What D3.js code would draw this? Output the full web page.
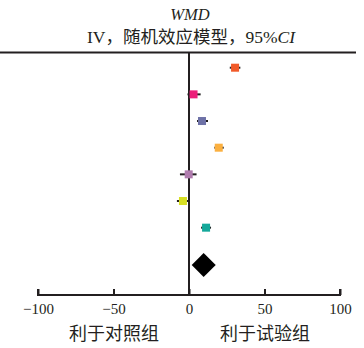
<!DOCTYPE html>
<html><head><meta charset="utf-8">
<script src="https://cdn.jsdelivr.net/npm/d3@7"></script>
<style>body{margin:0;background:#fff}svg{display:block}</style>
</head><body>
<script>
const studies = ["S1","S2","S3","S4","S5","S6","S7"];
const estimates = [30.5, 3.0, 8.6, 19.7, -0.2, -4.0, 11.3];
const ciLow = [27.0, -1.0, 5.3, 16.8, -6.0, -8.0, 8.0];
const ciHigh = [34.0, 7.7, 12.6, 23.0, 5.0, -0.5, 14.6];
const colors = ["#F15A29","#EC1E79","#6E72A7","#FBB040","#B07CAE","#D7DF23","#15A89A"];
const pooled = {est: 9.7, low: 1.8, high: 17.7};
const xTicks = [-100, -50, 0, 50, 100];
const sideLabels = ["利于对照组", "利于试验组"];
const sideAt = [-50, 50];

const W = 364, H = 348;
const svg = d3.select("body").append("svg").attr("width", W).attr("height", H);
const x = d3.scaleLinear().domain([-100, 100]).range([38, 340]);
const y = d3.scaleLinear().domain([0, 7.4]).range([67.7, 265]);
const ink = "#231F20";
const serif = "'Liberation Serif','DejaVu Serif',serif";
const cjk = "'Liberation Serif','Noto Sans CJK SC',serif";

// titles
svg.append("text").attr("x", 190).attr("y", 19.5).attr("text-anchor","middle")
  .style("font-family", serif).style("font-style","italic").style("font-size","16.5px").attr("fill", ink).text("WMD");
const t2 = svg.append("text").attr("x", 191).attr("y", 43).attr("text-anchor","middle")
  .style("font-family", cjk).style("font-size","17.5px").attr("fill", ink);
t2.append("tspan").text("IV，随机效应模型，95%");
t2.append("tspan").style("font-style","italic").text("CI");

// top line
svg.append("line").attr("x1", 0).attr("x2", 356).attr("y1", 52.5).attr("y2", 52.5)
  .attr("stroke", ink).attr("stroke-width", 2);
// zero line
svg.append("line").attr("x1", x(0)).attr("x2", x(0)).attr("y1", 52.5).attr("y2", 295)
  .attr("stroke", ink).attr("stroke-width", 2);

// axis
const axis = d3.axisBottom(x).tickValues(xTicks).tickSize(-6).tickPadding(12)
  .tickFormat(d => d < 0 ? "\u2212" + Math.abs(d) : String(d));
const g = svg.append("g").attr("transform", "translate(0,295)").call(axis);
g.select(".domain").attr("stroke", ink).attr("stroke-width", 2).attr("d", `M${x(-100)},-6V0H${x(100)}V-6`);
g.selectAll(".tick line").attr("stroke", ink).attr("stroke-width", 2);
g.selectAll(".tick text").attr("fill", ink).style("font-family", serif).style("font-size","15px").attr("dy","0.45em");

// side labels
svg.selectAll("text.side").data(sideLabels).join("text").attr("class","side")
  .attr("x", (d,i) => x(sideAt[i]) + 0.5).attr("y", 340).attr("text-anchor","middle")
  .style("font-family", cjk).style("font-size","18px").attr("fill", ink).text(d => d);

// CI whiskers
svg.selectAll("line.ci").data(studies).join("line").attr("class","ci")
  .attr("x1", (d,i) => x(ciLow[i])).attr("x2", (d,i) => x(ciHigh[i]))
  .attr("y1", (d,i) => y(i)).attr("y2", (d,i) => y(i))
  .attr("stroke", ink).attr("stroke-width", 2);
// squares
const s = 8;
svg.selectAll("rect.pt").data(studies).join("rect").attr("class","pt")
  .attr("x", (d,i) => x(estimates[i]) - s/2).attr("y", (d,i) => y(i) - s/2)
  .attr("width", s).attr("height", s).attr("fill", (d,i) => colors[i]);

// pooled diamond
const dy = y(7.4);
const hh = 12;
svg.append("path").attr("d",
  `M${x(pooled.low)},${dy}L${x(pooled.est)},${dy-hh}L${x(pooled.high)},${dy}L${x(pooled.est)},${dy+hh}Z`)
  .attr("fill", "#000");
</script>
</body></html>
